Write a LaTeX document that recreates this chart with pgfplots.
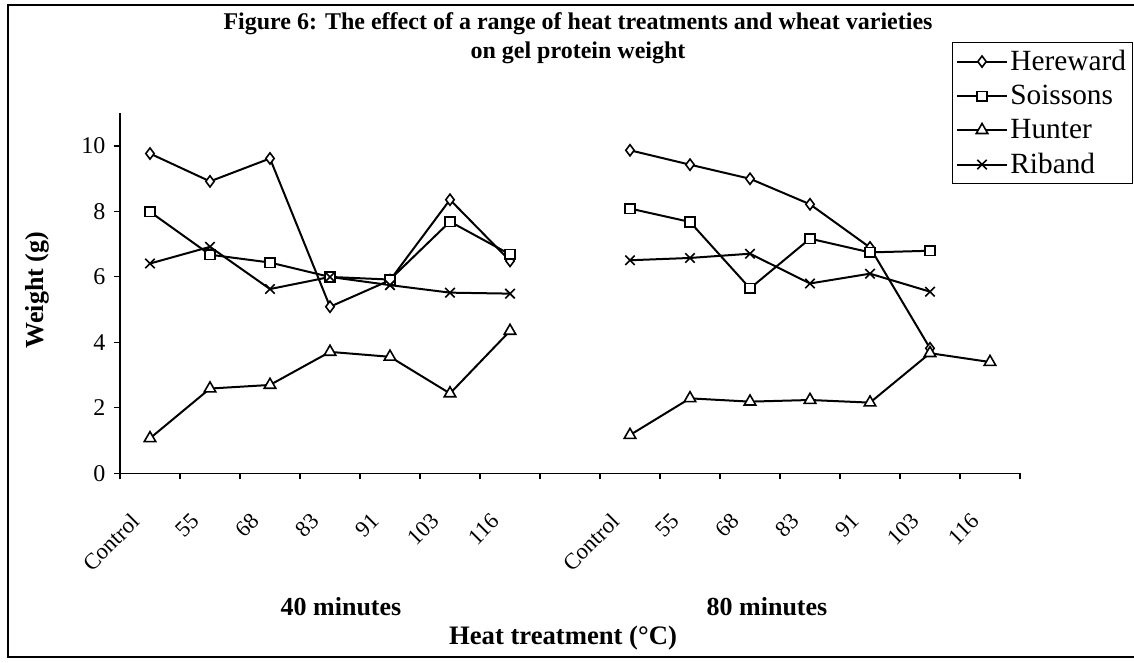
\documentclass[border=0pt]{standalone}
\usepackage{fontspec}
\setmainfont{Liberation Serif}
\usepackage{pgfplots}
\pgfplotsset{compat=1.18}

\pgfplotstableread{
x y
0.5 9.77
1.5 8.92
2.5 9.62
3.5 5.09
4.5 5.90
5.5 8.36
6.5 6.49
7.5 nan
8.5 9.87
9.5 9.43
10.5 9.00
11.5 8.22
12.5 6.90
13.5 3.82
}\hereward
\pgfplotstableread{
x y
0.5 7.99
1.5 6.68
2.5 6.44
3.5 6.00
4.5 5.92
5.5 7.69
6.5 6.69
7.5 nan
8.5 8.09
9.5 7.68
10.5 5.65
11.5 7.17
12.5 6.75
13.5 6.80
}\soissons
\pgfplotstableread{
x y
0.5 1.07
1.5 2.59
2.5 2.70
3.5 3.71
4.5 3.56
5.5 2.44
6.5 4.35
7.5 nan
8.5 1.17
9.5 2.29
10.5 2.19
11.5 2.24
12.5 2.16
13.5 3.67
14.5 3.40
}\hunter
\pgfplotstableread{
x y
0.5 6.41
1.5 6.92
2.5 5.63
3.5 6.00
4.5 5.75
5.5 5.52
6.5 5.49
7.5 nan
8.5 6.51
9.5 6.58
10.5 6.71
11.5 5.80
12.5 6.10
13.5 5.55
}\riband

\begin{document}
\begin{tikzpicture}[x=0.75pt,y=0.75pt]
\begin{axis}[
  at={(0pt,0pt)}, anchor=south west,
  scale only axis, width=675pt, height=270pt,
  xmin=0, xmax=15, ymin=0, ymax=11,
  axis x line*=bottom, axis y line*=left,
  axis line style={black, line width=0.9pt, -},
  xtick={0,...,15},
  x tick label as interval,
  xticklabels={Control,55,68,83,91,103,116,{},Control,55,68,83,91,103,116},
  xticklabel style={xshift=-15pt, yshift=-23pt, rotate=45, anchor=north east, font=\fontsize{17}{19}\selectfont, inner sep=1pt},
  ytick={0,2,4,6,8,10},
  yticklabel style={font=\fontsize{18}{20}\selectfont, xshift=-3pt},
  /pgf/number format/assume math mode=true,
  tick align=outside,
  major tick length=4.5pt,
  tick style={black, line width=0.8pt},
  clip=false,
  unbounded coords=jump,
  every axis plot/.append style={black, line width=1.5pt, mark options={fill=white, solid, line width=1.2pt}},
  legend style={at={(0.9244,1.198)}, anchor=north west, draw=black, line width=0.6pt,
    font=\fontsize{22}{24}\selectfont, row sep=5.5pt, inner xsep=3pt, inner ysep=4pt},
  legend cell align=left,
  legend image code/.code={\draw[mark repeat=2,mark phase=2] plot coordinates {(0pt,0pt) (18.5pt,0pt) (37pt,0pt)};},
]
\addplot[mark=diamond*, mark size=4.2pt] table[x=x,y=y] {\hereward};
\addlegendentry{Hereward}
\addplot[mark=square*, mark size=3.6pt] table[x=x,y=y] {\soissons};
\addlegendentry{Soissons}
\addplot[mark=triangle*, mark size=5pt] table[x=x,y=y] {\hunter};
\addlegendentry{Hunter}
\addplot[mark=x, mark size=5pt] table[x=x,y=y] {\riband};
\addlegendentry{Riband}
\end{axis}
% frame
\draw[line width=0.8pt] (-112,468.3) rectangle (1030,-183.7);
% title
\node[align=center, font=\bfseries\fontsize{18}{22}\selectfont] at (458,435) {Figure 6: The effect of a range of heat treatments and wheat varieties\\on gel protein weight};
\node[rotate=90, font=\bfseries\fontsize{19.5}{22}\selectfont] at (-83,183.3) {Weight (g)};
\node[font=\bfseries\fontsize{19.5}{22}\selectfont] at (221,-133.7) {40 minutes};
\node[font=\bfseries\fontsize{19.5}{22}\selectfont] at (647,-133.7) {80 minutes};
\node[font=\bfseries\fontsize{20}{22}\selectfont] at (443,-164.7) {Heat treatment (°C)};
\pgfresetboundingbox
\useasboundingbox (-120,-188.7) rectangle (1014,473.3);
\end{tikzpicture}
\end{document}
